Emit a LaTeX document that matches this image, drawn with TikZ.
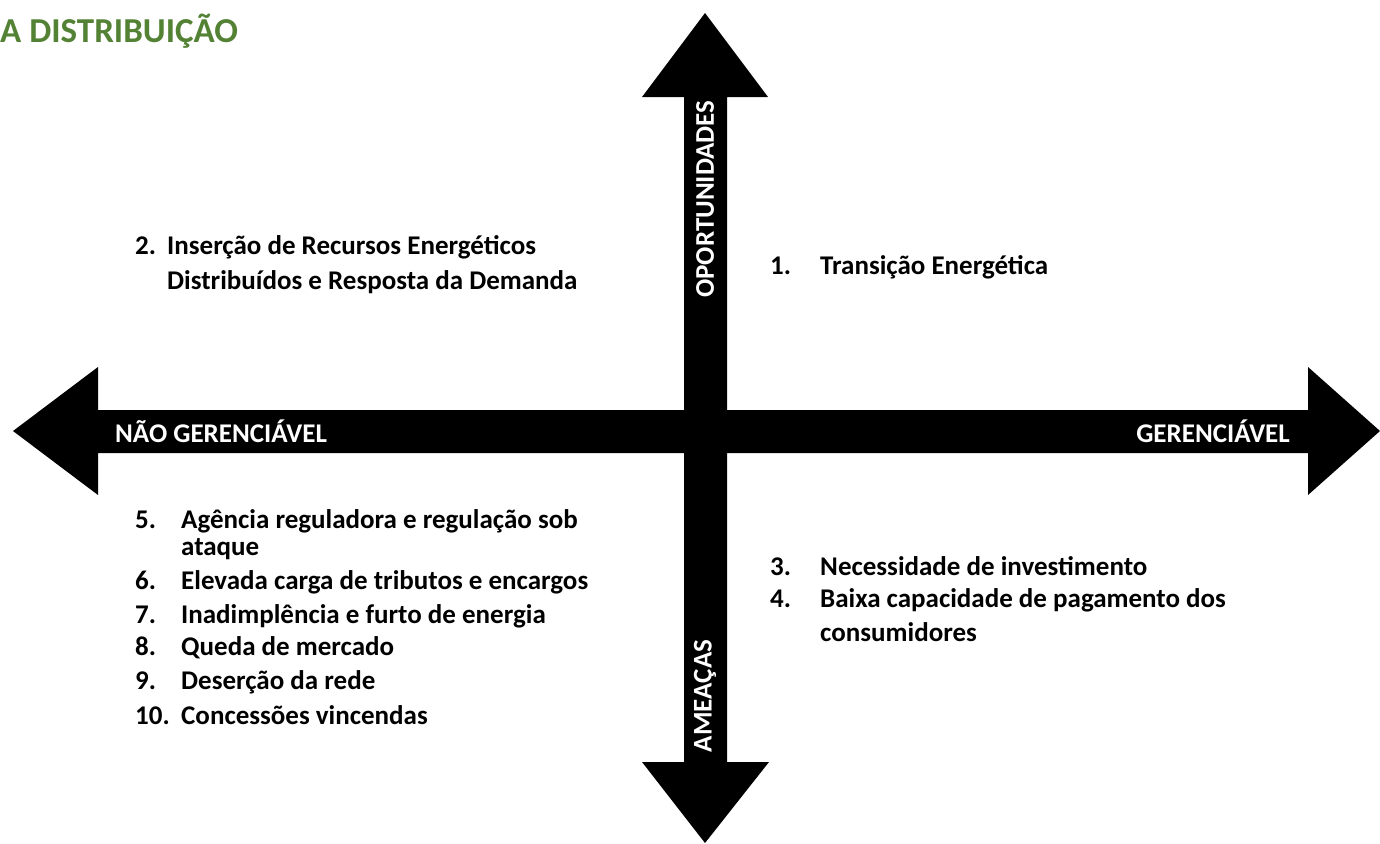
\documentclass[tikz,border=0pt]{standalone}
\usepackage{fontspec}
\setmainfont{Carlito}
\definecolor{titlegreen}{HTML}{548235}
\tikzset{
  arrowshape/.style={fill=black, draw=none},
  item/.style={anchor=base west, inner sep=0pt, font=\bfseries\fontsize{27}{32}\selectfont},
  axislabel/.style={inner sep=0pt, text=white, font=\bfseries\fontsize{27}{32}\selectfont},
}
\begin{document}
\begin{tikzpicture}[x=1pt,y=-1pt]
\useasboundingbox (0,0) rectangle (1380,843);
% horizontal double arrow
\fill[arrowshape] (13,431) -- (98,367) -- (98,410) -- (1308,410) -- (1308,367) -- (1380,431)
  -- (1308,495) -- (1308,453) -- (98,453) -- (98,495) -- cycle;
% vertical double arrow
\fill[arrowshape] (705,13) -- (768,97) -- (727,97) -- (727,762) -- (769,762) -- (705,843)
  -- (642,762) -- (684,762) -- (684,97) -- (642,97) -- cycle;
% title
\node[anchor=west, inner sep=0pt, text=titlegreen, font=\bfseries\fontsize{35}{42}\selectfont] (title) at (0,31) {A DISTRIBUIÇÃO};
% axis labels
\node[axislabel, anchor=west] (ng) at (115,431) {NÃO GERENCIÁVEL};
\node[axislabel, anchor=east] (g) at (1290,431) {GERENCIÁVEL};
\node[axislabel, rotate=90] (op) at (705,199) {OPORTUNIDADES};
\node[axislabel, rotate=90] (am) at (705,696) {AMEAÇAS};
% quadrant 1
\node[item] (n1) at (770,274) {1.};
\node[item] (t1) at (820,274) {Transição Energética};
% quadrant 2
\node[item] (n2) at (135,254) {2.};
\node[item] (t2a) at (167,254) {Inserção de Recursos Energéticos};
\node[item] (t2b) at (167,289) {Distribuídos e Resposta da Demanda};
% quadrant 4
\node[item] (n3) at (770,575) {3.};
\node[item] (t3) at (820,575) {Necessidade de investimento};
\node[item] (n4) at (770,607) {4.};
\node[item] (t4a) at (820,607) {Baixa capacidade de pagamento dos};
\node[item] (t4b) at (820,641) {consumidores};
% quadrant 3
\node[item] (n5) at (135,528) {5.};
\node[item] (t5a) at (181,528) {Agência reguladora e regulação sob};
\node[item] (t5b) at (181,555) {ataque};
\node[item] (n6) at (135,589) {6.};
\node[item] (t6) at (181,589) {Elevada carga de tributos e encargos};
\node[item] (n7) at (135,623) {7.};
\node[item] (t7) at (181,623) {Inadimplência e furto de energia};
\node[item] (n8) at (135,655) {8.};
\node[item] (t8) at (181,655) {Queda de mercado};
\node[item] (n9) at (135,689) {9.};
\node[item] (t9) at (181,689) {Deserção da rede};
\node[item] (n10) at (135,724) {10.};
\node[item] (t10) at (181,724) {Concessões vincendas};
\end{tikzpicture}
\end{document}
